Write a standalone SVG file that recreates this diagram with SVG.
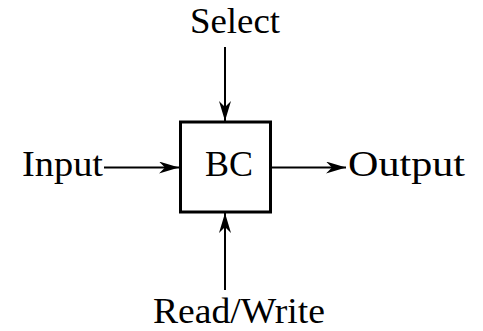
<svg xmlns="http://www.w3.org/2000/svg" width="483" height="331" viewBox="0 0 483 331">
  <style>
    .lbl { font-family: "Liberation Serif", "Times New Roman", serif; font-size: 35px; fill: #000; }
    .wire { stroke: #000; stroke-width: 2; fill: none; marker-end: url(#head); }
    .box { fill: #fff; stroke: #000; stroke-width: 3; }
  </style>
  <defs>
    <marker id="head" viewBox="0 0 20 12" refX="20" refY="6" markerWidth="20" markerHeight="12" markerUnits="userSpaceOnUse" orient="auto">
      <path d="M0,0 L20,6 L0,12 L6,6 Z" fill="#000"/>
    </marker>
  </defs>

  <g id="connectors">
    <line class="wire" x1="225" y1="47" x2="225" y2="121"/>
    <line class="wire" x1="104" y1="167.5" x2="179" y2="167.5"/>
    <line class="wire" x1="271" y1="167.5" x2="346" y2="167.5"/>
    <line class="wire" x1="225" y1="290" x2="225" y2="213"/>
  </g>

  <g id="bc">
    <rect class="box" x="180.5" y="122" width="90" height="90"/>
    <text class="lbl" x="205" y="176" textLength="48" lengthAdjust="spacingAndGlyphs">BC</text>
  </g>
  <g id="select">
    <text class="lbl" x="190" y="33" textLength="90" lengthAdjust="spacingAndGlyphs">Select</text>
  </g>
  <g id="input">
    <text class="lbl" x="22" y="176" textLength="81" lengthAdjust="spacingAndGlyphs">Input</text>
  </g>
  <g id="output">
    <text class="lbl" x="348" y="176" textLength="117" lengthAdjust="spacingAndGlyphs">Output</text>
  </g>
  <g id="readwrite">
    <text class="lbl" x="153" y="323" textLength="172" lengthAdjust="spacingAndGlyphs">Read/Write</text>
  </g>
</svg>
